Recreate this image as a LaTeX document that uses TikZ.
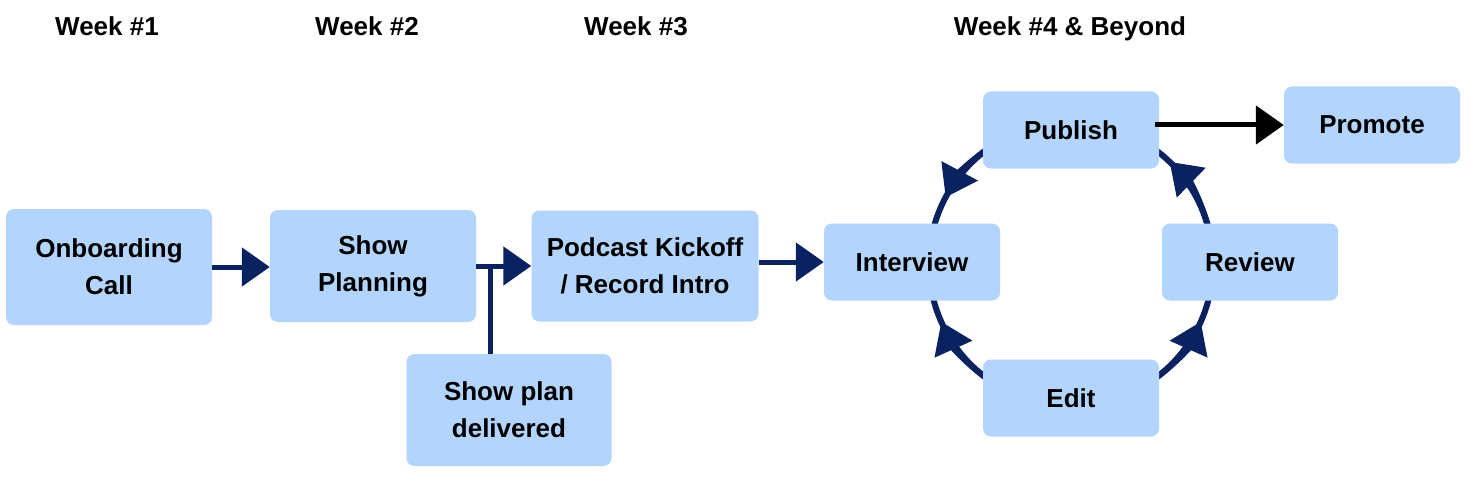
\documentclass[tikz,border=0pt]{standalone}
\usepackage{fontspec}
\setmainfont{Liberation Sans}
\usetikzlibrary{arrows.meta}
\definecolor{boxc}{HTML}{B3D4FC}
\definecolor{navy}{HTML}{0B2260}
\begin{document}
\begin{tikzpicture}[x=1pt,y=1pt,
 box/.style={fill=boxc,draw=none,rounded corners=8pt,align=center,font=\fontsize{26}{37}\selectfont\bfseries,inner sep=0pt},
 wk/.style={font=\fontsize{26}{30}\selectfont\bfseries,anchor=base},
 arr/.style={draw=navy,line width=5pt,-{Triangle[length=28pt,width=38pt]}},
 carr/.style={draw=navy,line width=6pt,-{Triangle[length=30pt,width=40pt]}}]
\useasboundingbox (0,0) rectangle (1478,483);
\fill[white] (0,0) rectangle (1478,483);
\node[wk] (w1) at (107,447) {Week \#1};
\node[wk] (w2) at (367,447) {Week \#2};
\node[wk] (w3) at (636,447) {Week \#3};
\node[wk] (w4) at (1070,447) {Week \#4 \& Beyond};
\coordinate (c) at (1071,219);
\draw[navy,line width=6pt] (c) circle (142pt);
\draw[carr] ([shift={(1071pt,219pt)}]120:142pt) arc (120:152:142pt);
\draw[carr] ([shift={(1071pt,219pt)}]238:142pt) arc (238:204:142pt);
\draw[carr] ([shift={(1071pt,219pt)}]302:142pt) arc (302:336:142pt);
\draw[carr] ([shift={(1071pt,219pt)}]12:142pt) arc (12:46:142pt);
\node[box,minimum width=206,minimum height=116] (on) at (109,216) {Onboarding\\Call};
\node[box,minimum width=206,minimum height=112] (sp) at (373,217) {Show\\Planning};
\node[box,minimum width=205,minimum height=112] (dl) at (509,73) {Show plan\\delivered};
\node[box,minimum width=227,minimum height=111] (pk) at (645,217) {Podcast Kickoff\\/ Record Intro};
\node[box,minimum width=176,minimum height=77] (iv) at (912,221) {Interview};
\node[box,minimum width=176,minimum height=77] (pb) at (1071,353) {Publish};
\node[box,minimum width=176,minimum height=77] (rv) at (1250,221) {Review};
\node[box,minimum width=176,minimum height=77] (ed) at (1071,85) {Edit};
\node[box,minimum width=176,minimum height=77] (pr) at (1372,358) {Promote};
\draw[arr] (on.east) -- (sp.west |- on.east);
\draw[arr] (sp.east) -- (pk.west |- sp.east);
\coordinate (j) at (490,217);
\draw[navy,line width=5pt] (dl.north -| j) -- (j);
\draw[arr] (pk.east |- iv.west) -- (iv.west);
\draw[line width=5pt,-{Triangle[length=28pt,width=38pt]}] (1155,358) -- (pr.west);
\end{tikzpicture}
\end{document}
